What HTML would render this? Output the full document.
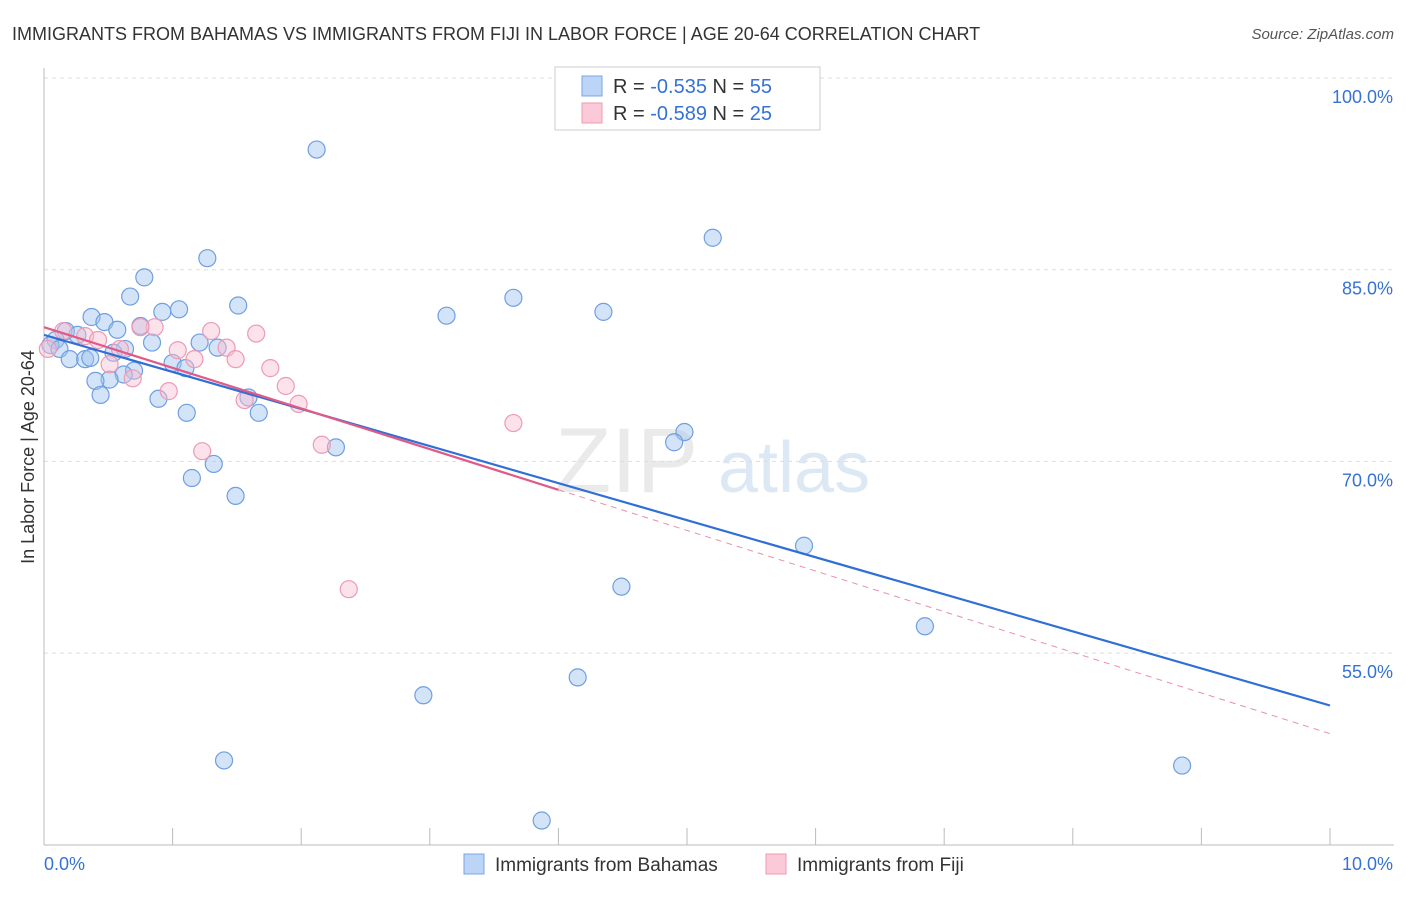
<!DOCTYPE html>
<html><head><meta charset="utf-8"><style>
body{margin:0;background:#fff;font-family:"Liberation Sans",sans-serif;}
svg text{font-family:"Liberation Sans",sans-serif;}
</style></head><body>
<svg id="c" width="1406" height="892">
<text x="12" y="40" font-size="18" fill="#333">IMMIGRANTS FROM BAHAMAS VS IMMIGRANTS FROM FIJI IN LABOR FORCE | AGE 20-64 CORRELATION CHART</text>
<text x="1394" y="39" font-size="15" fill="#555" text-anchor="end" font-style="italic">Source: ZipAtlas.com</text>
<text x="34" y="457" font-size="18" fill="#333" text-anchor="middle" transform="rotate(-90 34 457)">In Labor Force | Age 20-64</text>
<g><text x="555" y="492" font-size="92" fill="#ddd" font-family="Liberation Serif" opacity="0.6">ZIP</text><text x="718" y="492" font-size="72" fill="#c8daf0" opacity="0.6">atlas</text></g>
<g id="grid"></g><g id="marks"></g>
<g>
<rect x="555" y="67" width="265" height="63" fill="#fff" stroke="#ccc"/>
<rect x="582" y="76" width="20" height="20" fill="#bcd4f5" stroke="#7aa6e6"/>
<rect x="582" y="103" width="20" height="20" fill="#fbc9d8" stroke="#ee9ab4"/>
<text x="613" y="93" font-size="20" fill="#333">R = <tspan fill="#3672d4">-0.535</tspan>   N = <tspan fill="#3672d4">55</tspan></text>
<text x="613" y="120" font-size="20" fill="#333">R = <tspan fill="#3672d4">-0.589</tspan>   N = <tspan fill="#3672d4">25</tspan></text>
</g>
<g>
<rect x="464" y="854" width="20" height="20" fill="#bcd4f5" stroke="#7aa6e6"/>
<text x="495" y="871" font-size="19" fill="#333">Immigrants from Bahamas</text>
<rect x="766" y="854" width="20" height="20" fill="#fbc9d8" stroke="#ee9ab4"/>
<text x="797" y="871" font-size="19" fill="#333">Immigrants from Fiji</text>
</g>
</svg>
<script>
const yTicks=[55,70,85,100];
const yTickLabels=["55.0%","70.0%","85.0%","100.0%"];
const xTicks=[0,1,2,3,4,5,6,7,8,9,10];
const bahamasX=[2.12,5.20,1.27,0.78,0.67,1.51,3.65,4.35,3.13,1.05,0.92,0.37,0.47,0.75,0.57,0.17,0.26,0.09,0.05,0.12,0.84,1.21,1.35,0.63,0.54,0.20,0.32,0.36,1.00,1.10,0.70,0.62,0.51,0.40,0.44,0.89,1.59,1.67,1.11,4.98,4.90,2.27,1.32,1.15,1.49,5.91,4.49,6.85,4.15,2.95,1.40,8.85,3.87];
const bahamasY=[94.4,87.5,85.9,84.4,82.9,82.2,82.8,81.7,81.4,81.9,81.7,81.3,80.9,80.6,80.3,80.2,79.9,79.5,79.1,78.8,79.3,79.3,78.9,78.8,78.5,78.0,78.0,78.1,77.7,77.3,77.1,76.8,76.4,76.3,75.2,74.9,75.0,73.8,73.8,72.3,71.5,71.1,69.8,68.7,67.3,63.4,60.2,57.1,53.1,51.7,46.6,46.2,41.9];
const fijiX=[0.03,0.15,0.32,0.42,0.59,0.86,0.75,1.30,1.65,1.42,1.04,1.17,1.49,0.51,1.76,0.69,1.88,0.97,1.56,1.98,3.65,2.16,1.23,2.37];
const fijiY=[78.8,80.2,79.8,79.5,78.8,80.5,80.5,80.2,80.0,78.9,78.7,78.0,78.0,77.6,77.3,76.5,75.9,75.5,74.8,74.5,73.0,71.3,70.8,60.0];
const bahamasTrend=[79.9,50.9];
const fijiTrend=[80.5,48.7];
const fijiSolidEnd=4;
const NS='http://www.w3.org/2000/svg';
const X=v=>44+v*128.6, Y=v=>78+(100-v)*12.78;
function mk(t,a,p){const e=document.createElementNS(NS,t);for(const k in a)e.setAttribute(k,a[k]);p.appendChild(e);return e;}
const g=document.getElementById('grid'),m=document.getElementById('marks');
yTicks.forEach((t,i)=>{
 const l=mk('line',{x1:44,x2:1394,y1:Y(t),y2:Y(t),stroke:'#ddd','stroke-dasharray':'4,4'},g);
 
 const tx=mk('text',{x:1393,y:Y(t)+25,'font-size':18,fill:'#3672d4','text-anchor':'end'},g);tx.textContent=yTickLabels[i];
 
});
const ax=mk('line',{x1:44,x2:44,y1:68,y2:845,stroke:'#bbb'},g);

const bx=mk('line',{x1:44,x2:1394,y1:845,y2:845,stroke:'#bbb'},g);

xTicks.forEach(t=>{const l=mk('line',{x1:X(t),x2:X(t),y1:828,y2:845,stroke:'#bbb'},g);
 });
let t1=mk('text',{x:44,y:870,'font-size':18,fill:'#3672d4'},g);t1.textContent='0.0%';

let t2=mk('text',{x:1393,y:870,'font-size':18,fill:'#3672d4','text-anchor':'end'},g);t2.textContent='10.0%';

bahamasX.forEach((v,i)=>{const c=mk('circle',{cx:X(v),cy:Y(bahamasY[i]),r:8.5,fill:'rgba(160,196,240,0.45)',stroke:'#6f9fe0','stroke-width':1.2},m);
 });
fijiX.forEach((v,i)=>{const c=mk('circle',{cx:X(v),cy:Y(fijiY[i]),r:8.5,fill:'rgba(248,190,208,0.45)',stroke:'#ee9ab4','stroke-width':1.2},m);
 });
const bl=mk('line',{x1:X(0),y1:Y(bahamasTrend[0]),x2:X(10),y2:Y(bahamasTrend[1]),stroke:'#2f6fd6','stroke-width':2.2},m);

const fy=x=>fijiTrend[0]+(fijiTrend[1]-fijiTrend[0])*x/10;
const fl=mk('line',{x1:X(0),y1:Y(fy(0)),x2:X(fijiSolidEnd),y2:Y(fy(fijiSolidEnd)),stroke:'#e05a88','stroke-width':2.2},m);

const fd=mk('line',{x1:X(fijiSolidEnd),y1:Y(fy(fijiSolidEnd)),x2:X(10),y2:Y(fy(10)),stroke:'#e890ab','stroke-width':1,'stroke-dasharray':'6,5'},m);

</script>
</body></html>
